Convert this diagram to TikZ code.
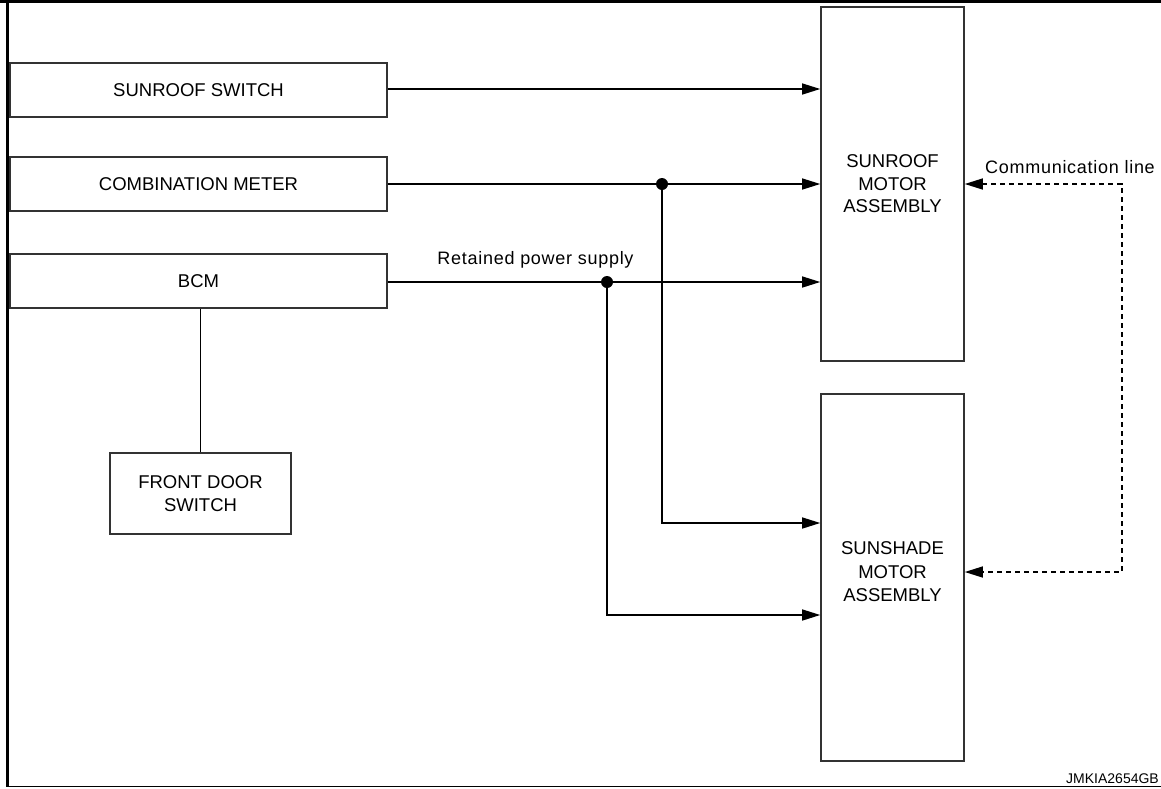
\documentclass[tikz,border=0pt]{standalone}
\usepackage{fontspec}
\setmainfont{Liberation Sans}
\newfontfamily\trackfont[LetterSpace=4]{Liberation Sans}
\usetikzlibrary{arrows.meta}
\begin{document}
\begin{tikzpicture}[x=1pt,y=-1pt,
  box/.style={draw=black!80, line width=1.6pt, fill=white, align=center, inner sep=0pt,
    font=\fontsize{18.5}{22.5}\selectfont},
  boxtext/.style={align=center, inner sep=0pt, font=\fontsize{18.5}{23.5}\selectfont},
  conn/.style={line width=1.4pt, -{Triangle[length=18pt,width=11pt]}},
  wire/.style={line width=1.4pt},
  comm/.style={line width=1.4pt, dash pattern=on 5pt off 4pt},
  dot/.style={circle, fill=black, inner sep=0pt, minimum size=12pt},
  lbl/.style={font=\trackfont\fontsize{18}{21}\selectfont, inner sep=0pt}]
\useasboundingbox (0,0) rectangle (1161,788);
% frame
\draw[line width=3pt] (0,1.5) -- (1161,1.5);
\draw[line width=3pt] (7.5,0) -- (7.5,786.5);
\draw[line width=1pt] (7.5,786.5) -- (1161,786.5);
% boxes
\node[box, minimum width=377pt, minimum height=54pt] (sw) at (198.5,90) {SUNROOF SWITCH};
\node[box, minimum width=377pt, minimum height=54pt] (cm) at (198.5,184) {COMBINATION METER};
\node[box, minimum width=377pt, minimum height=54pt] (bcm) at (198.5,281) {BCM};
\node[box, minimum width=181pt, minimum height=81pt] (fds) at (200.5,493.5) {FRONT DOOR\\SWITCH};
\node[box, minimum width=143pt, minimum height=354pt] (srm) at (892.5,184) {SUNROOF\\MOTOR\\ASSEMBLY};
\node[box, minimum width=143pt, minimum height=367pt] (ssm) at (892.5,577.5) {};
\node[boxtext] (ssmt) at (892.5,572) {SUNSHADE\\MOTOR\\ASSEMBLY};
% junctions
\coordinate (j1) at (662,184);
\coordinate (j2) at (607,282);
\coordinate (c1) at (1122,184);
\coordinate (c2) at (1122,572);
\node[dot] (d1) at (j1) {};
\node[dot] (d2) at (j2) {};
% connectors
\draw[conn] (sw.east |- 0,89) -- (srm.west |- 0,89);
\draw[conn] (cm.east) -- (srm.west |- cm.east);
\draw[conn] (bcm.east |- j2) -- (srm.west |- j2);
\draw[conn] (j1) -- (662,523) -- (ssm.west |- 0,523);
\draw[conn] (j2) -- (607,615) -- (ssm.west |- 0,615);
\draw[wire] (bcm.south -| fds.north) -- (fds.north);
\draw[comm, {Triangle[length=18pt,width=11pt]}-{Triangle[length=18pt,width=11pt]}] (srm.east |- c1) -- (c1) -- (c2) -- (ssm.east |- c2);
% labels
\node[lbl, anchor=base] (rps) at (535.5,264) {Retained power supply};
\node[lbl, anchor=base west] (cl) at (985,173) {Communication line};
\node[font=\fontsize{14}{16}\selectfont, anchor=base west, inner sep=0pt] (id) at (1066,783) {JMKIA2654GB};
\end{tikzpicture}
\end{document}
